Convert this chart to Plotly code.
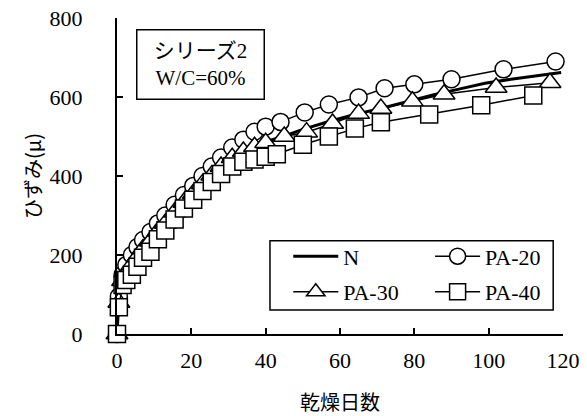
import plotly.graph_objects as go

# drying days and strain (μ) for each mix
n_days = [0, 0.5, 1.5, 2.5, 4, 5.5, 7, 9, 11, 13, 15.5, 18, 20.5, 23, 25.5, 28, 31, 34, 37, 40, 44,
          50, 57, 64, 71, 78, 85, 92, 99, 106, 113, 119.5]
n_vals = [0, 85, 138, 158, 178, 198, 217, 238, 262, 283, 310, 335, 357, 381, 403, 425, 447, 463, 476, 487, 498,
          518, 538, 556, 571, 588, 605, 620, 635, 645, 654, 662]

pa20_days = [0, 0.5, 1.5, 2.5, 4, 5.5, 7, 9, 11, 13, 15.5, 18, 20.5, 23, 25.5, 28, 31, 34, 37, 40, 44,
             50.5, 57, 65, 72, 80, 90, 104, 118]
pa20_vals = [0, 95, 150, 175, 200, 220, 238, 258, 280, 300, 327, 352, 375, 400, 424, 447, 472, 492, 512, 525, 537,
             561, 581, 599, 622, 632, 645, 670, 690]

pa30_days = [0, 0.5, 1.5, 2.5, 4, 5.5, 7, 9, 11, 13, 15.5, 18, 20.5, 23, 25.5, 28, 31, 34, 37, 40, 45,
             51, 58, 65, 71, 79.5, 88, 102, 116.5]
pa30_vals = [0, 80, 135, 155, 175, 195, 215, 235, 260, 280, 308, 333, 355, 380, 402, 424, 446, 462, 474, 484, 500,
             511, 533, 558, 571, 589, 607, 624, 636]

pa40_days = [0, 0.5, 1.5, 2.5, 4, 5.5, 7, 9, 11, 13, 15.5, 18, 20.5, 23, 25.5, 28, 31, 34, 37, 40, 43,
             50, 57, 64, 71, 84, 98, 112]
pa40_vals = [0, 68, 124, 137, 150, 170, 193, 208, 240, 262, 290, 318, 340, 362, 385, 405, 424, 436, 442, 449, 455,
             479, 500, 520, 536, 556, 579, 604]

x_ticks = [0, 20, 40, 60, 80, 100, 120]
y_ticks = [0, 200, 400, 600, 800]

SERIF = "Liberation Serif, Times New Roman, Noto Sans CJK JP, serif"
JP = "Noto Sans CJK JP, sans-serif"

marker_style = dict(color="white", line=dict(color="black", width=1.5))

fig = go.Figure()
fig.add_trace(go.Scatter(x=n_days, y=n_vals, name="N", mode="lines",
                         legend="legend", legendgroup="n",
                         line=dict(color="black", width=3), cliponaxis=False))
fig.add_trace(go.Scatter(x=pa20_days, y=pa20_vals, name="PA-20", mode="lines+markers",
                         legend="legend2", legendgroup="pa20",
                         line=dict(color="black", width=1.5),
                         marker=dict(symbol="circle", size=17, **marker_style), cliponaxis=False))
fig.add_trace(go.Scatter(x=pa30_days, y=pa30_vals, name="PA-30", mode="lines+markers",
                         legend="legend", legendgroup="pa30",
                         line=dict(color="black", width=1.5),
                         marker=dict(symbol="triangle-up", size=19, **marker_style), cliponaxis=False))
fig.add_trace(go.Scatter(x=pa40_days, y=pa40_vals, name="PA-40", mode="lines+markers",
                         legend="legend2", legendgroup="pa40",
                         line=dict(color="black", width=1.5),
                         marker=dict(symbol="square", size=17, **marker_style), cliponaxis=False))

# series / mix label box
fig.add_annotation(
    x=0.188, y=0.854, xref="paper", yref="paper", xanchor="center", yanchor="middle",
    text="シリーズ2<br>W/C=60%", showarrow=False, align="center",
    font=dict(family=SERIF, size=21, color="black"),
    width=118, height=60,
    bordercolor="black", borderwidth=1.5, borderpad=4, bgcolor="white",
)

# frame around the two legend columns
fig.add_shape(type="rect", xref="paper", yref="paper",
              x0=0.343, x1=0.978, y0=0.076, y1=0.295,
              line=dict(color="black", width=1.5), fillcolor="white", layer="above")

legend_common = dict(
    orientation="v", yanchor="top", xanchor="left",
    bgcolor="rgba(0,0,0,0)", borderwidth=0, itemwidth=45, tracegroupgap=4,
    font=dict(family=SERIF, size=22, color="black"),
)

fig.update_layout(
    width=587, height=416,
    margin=dict(l=117, r=24, t=18, b=82, autoexpand=False),
    plot_bgcolor="white", paper_bgcolor="white",
    font=dict(family=SERIF, size=22, color="black"),
    showlegend=True,
    legend=dict(x=0.384, y=0.312, **legend_common),
    legend2=dict(x=0.702, y=0.312, **legend_common),
    xaxis=dict(
        range=[0, 120], tickvals=x_ticks, ticks="inside", ticklen=6, tickwidth=2,
        tickcolor="black", showline=True, linewidth=2, linecolor="black",
        showgrid=False, zeroline=False, ticklabelstandoff=6, automargin=False,
        tickfont=dict(family=SERIF, size=22),
        title=dict(text="乾燥日数", font=dict(family=JP, size=20), standoff=24),
    ),
    yaxis=dict(
        range=[0, 800], tickvals=y_ticks, ticks="inside", ticklen=6, tickwidth=2,
        tickcolor="black", showline=True, linewidth=2, linecolor="black",
        showgrid=False, zeroline=False, ticklabelstandoff=28, automargin=False,
        tickfont=dict(family=SERIF, size=22),
        title=dict(text="ひずみ(μ)", font=dict(family=JP, size=20), standoff=3),
    ),
)

fig.write_html("out.html")
